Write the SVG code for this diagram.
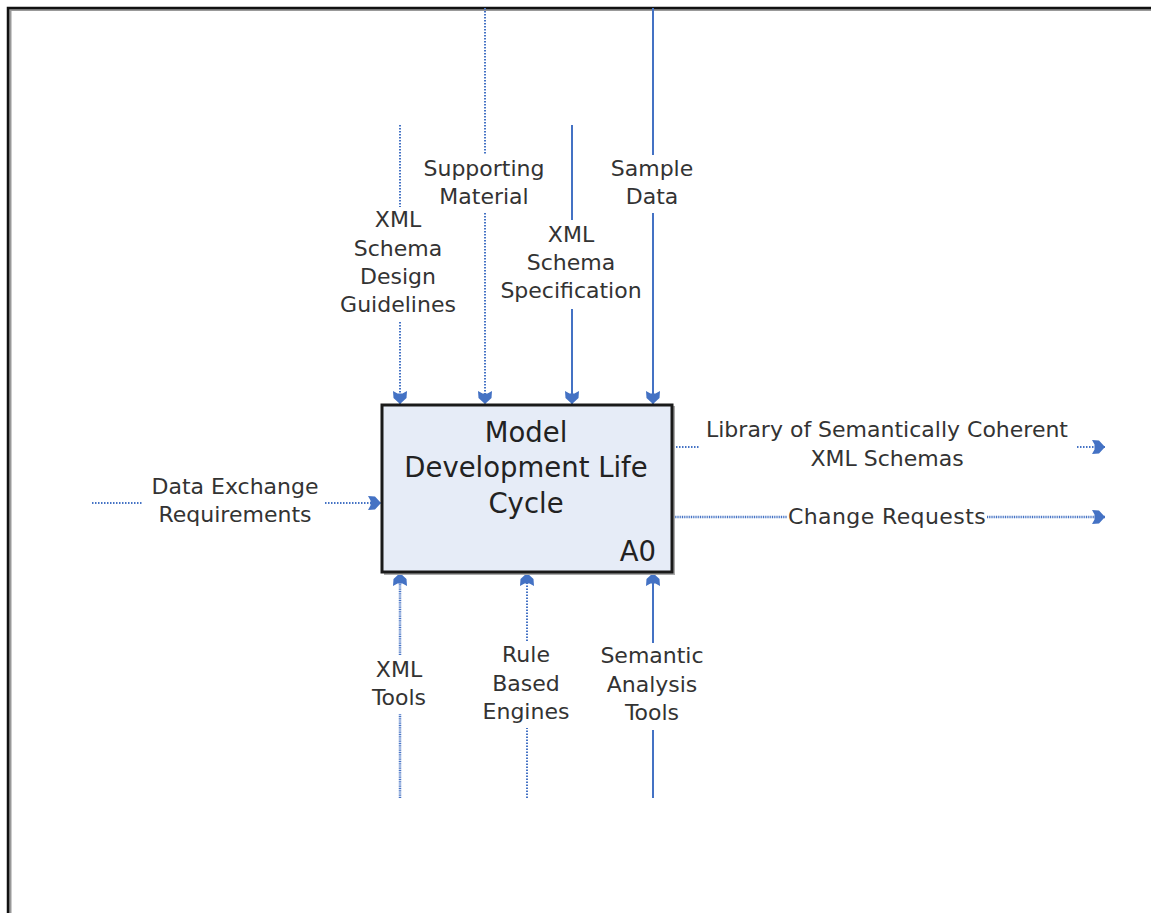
<svg xmlns="http://www.w3.org/2000/svg" width="1151" height="913" viewBox="0 0 1151 913">
<style>
  .lbl { font-family: "DejaVu Sans", Verdana, sans-serif; font-size: 22px; fill: #333; text-anchor: middle; }
  .ttl { font-family: "DejaVu Sans", Verdana, sans-serif; font-size: 27.5px; fill: #222; text-anchor: middle; }
  .solid { stroke: #4472c4; stroke-width: 2; fill: none; }
  .dot { stroke: #4472c4; stroke-width: 2; fill: none; stroke-dasharray: 1.5 1.5; }
  .dense { stroke: #4472c4; stroke-width: 2.5; fill: none; stroke-dasharray: 1 0.8; }
</style>
<defs>
  <marker id="ah" markerUnits="userSpaceOnUse" markerWidth="20" markerHeight="20" viewBox="-16 -10 20 20" refX="0" refY="0" orient="auto">
    <path d="M0,0 L-6,-6.5 L-13,-7 L-10.5,-2.5 L-10.5,2.5 L-13,7 L-6,6.5 Z" fill="#4472c4"/>
  </marker>
</defs>
<rect width="1151" height="913" fill="#ffffff"/>
<g id="frame">
  <path d="M9,913 V8.5 H1151" fill="none" stroke="#999" stroke-width="3" transform="translate(1,1)"/>
  <path d="M8,913 V8 H1151" fill="none" stroke="#111" stroke-width="2.5"/>
</g>
<g id="connectors">
  <!-- top controls -->
  <path class="dot" d="M400,125 V207"/>
  <path class="dot" d="M400,322 V404" marker-end="url(#ah)"/>
  <path class="dot" d="M485,8 V155"/>
  <path class="dot" d="M485,213 V404" marker-end="url(#ah)"/>
  <path class="solid" d="M572,125 V220"/>
  <path class="solid" d="M572,309 V404" marker-end="url(#ah)"/>
  <path class="solid" d="M653,8 V155"/>
  <path class="solid" d="M653,213 V404" marker-end="url(#ah)"/>
  <!-- input -->
  <path class="dot" d="M92,503 H143"/>
  <path class="dot" d="M325,503 H381" marker-end="url(#ah)"/>
  <!-- outputs -->
  <path class="dot" d="M673,447 H700"/>
  <path class="dot" d="M1077,447 H1105" marker-end="url(#ah)"/>
  <path class="dense" d="M673,517 H787"/>
  <path class="dense" d="M987,517 H1105" marker-end="url(#ah)"/>
  <!-- bottom mechanisms -->
  <path class="dense" d="M400,798 V714"/>
  <path class="dense" d="M400,655 V573" marker-end="url(#ah)"/>
  <path class="dot" d="M527,798 V728"/>
  <path class="dot" d="M527,641 V573" marker-end="url(#ah)"/>
  <path class="solid" d="M653,798 V730"/>
  <path class="solid" d="M653,643 V573" marker-end="url(#ah)"/>
</g>
<g id="node-A0">
  <rect x="384" y="406" width="291" height="169" fill="#aaa"/>
  <rect x="382" y="405" width="290" height="167" fill="#e6ecf7" stroke="#1a1a1a" stroke-width="3"/>
  <text class="ttl" x="526" y="442">Model</text>
  <text class="ttl" x="526" y="477">Development Life</text>
  <text class="ttl" x="526" y="513">Cycle</text>
  <text class="ttl" x="656" y="561" style="text-anchor:end">A0</text>
</g>
<g id="label-guidelines">
  <text class="lbl" x="398" y="227">XML</text>
  <text class="lbl" x="398" y="256">Schema</text>
  <text class="lbl" x="398" y="284">Design</text>
  <text class="lbl" x="398" y="312">Guidelines</text>
</g>
<g id="label-supporting">
  <text class="lbl" x="484" y="176">Supporting</text>
  <text class="lbl" x="484" y="204">Material</text>
</g>
<g id="label-spec">
  <text class="lbl" x="571" y="242">XML</text>
  <text class="lbl" x="571" y="270">Schema</text>
  <text class="lbl" x="571" y="298">Specification</text>
</g>
<g id="label-sample">
  <text class="lbl" x="652" y="176">Sample</text>
  <text class="lbl" x="652" y="204">Data</text>
</g>
<g id="label-input">
  <text class="lbl" x="235" y="494">Data Exchange</text>
  <text class="lbl" x="235" y="522">Requirements</text>
</g>
<g id="label-library">
  <text class="lbl" x="887" y="437">Library of Semantically Coherent</text>
  <text class="lbl" x="887" y="466">XML Schemas</text>
</g>
<g id="label-change">
  <text class="lbl" x="887" y="524" style="letter-spacing:0.4px">Change Requests</text>
</g>
<g id="label-xmltools">
  <text class="lbl" x="399" y="677">XML</text>
  <text class="lbl" x="399" y="705">Tools</text>
</g>
<g id="label-rule">
  <text class="lbl" x="526" y="662">Rule</text>
  <text class="lbl" x="526" y="691">Based</text>
  <text class="lbl" x="526" y="719">Engines</text>
</g>
<g id="label-semantic">
  <text class="lbl" x="652" y="663">Semantic</text>
  <text class="lbl" x="652" y="692">Analysis</text>
  <text class="lbl" x="652" y="720">Tools</text>
</g>
</svg>
